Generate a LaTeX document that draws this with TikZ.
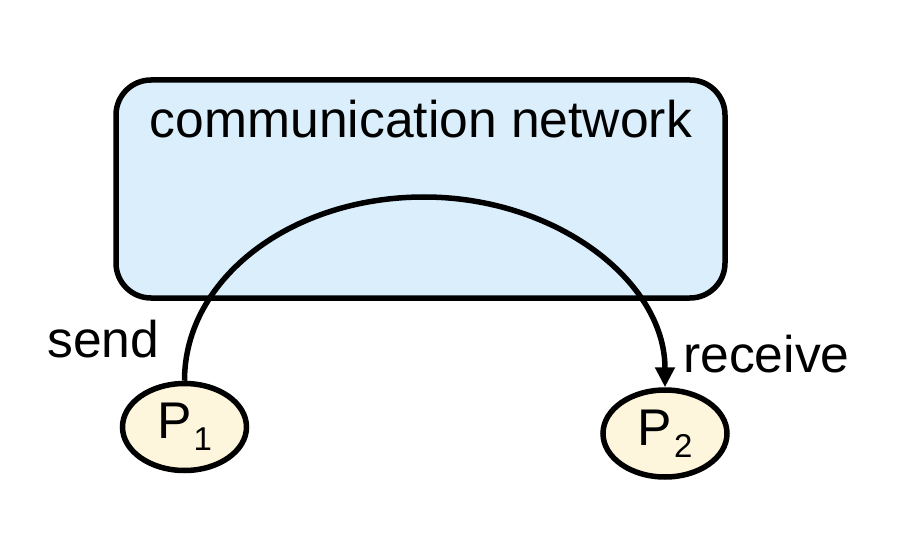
\documentclass[tikz,border=0pt]{standalone}
\usepackage{fontspec}
\setmainfont{Liberation Sans}
\usetikzlibrary{arrows.meta,shapes.geometric}
\definecolor{netfill}{RGB}{218,238,252}
\definecolor{procfill}{RGB}{253,245,220}
\tikzset{
  netbox/.style={draw=black, line width=5.5pt, fill=netfill, rounded corners=35pt, minimum width=609pt, minimum height=218pt, inner sep=0pt},
  proc/.style={draw=black, line width=5.5pt, fill=procfill, ellipse, inner sep=0pt, minimum width=124pt, minimum height=87pt, font=\fontsize{51.6}{60}\selectfont},
  lbl/.style={inner sep=0pt, font=\fontsize{51.6}{60}\selectfont},
  msg/.style={line width=5.5pt, -{Triangle[length=20pt,width=19pt]}}
}
\newcommand{\procname}[1]{P\kern2pt\raisebox{-12pt}{\fontsize{33}{33}\selectfont #1}}
\begin{document}
\begin{tikzpicture}[x=1pt,y=-1pt]
\useasboundingbox (0,0) rectangle (924,540);
\node[netbox] (net) at (420.5,189) {};
\node[lbl, anchor=base] (title) at (421,138) {communication network};
\node[proc] (p1) at (184.5,427) {\procname{1}};
\node[proc] (p2) at (665,433.5) {\procname{2}};
\node[lbl, anchor=base west] (send) at (47,357) {send};
\node[lbl, anchor=base west] (recv) at (683,372) {receive};
\coordinate (top) at (424,197);
\draw[msg] (p1.north) .. controls +(0,-103) and +(-132,0) .. (top)
  .. controls +(132,0) and +(0,-106) .. (p2.north);
\end{tikzpicture}
\end{document}
